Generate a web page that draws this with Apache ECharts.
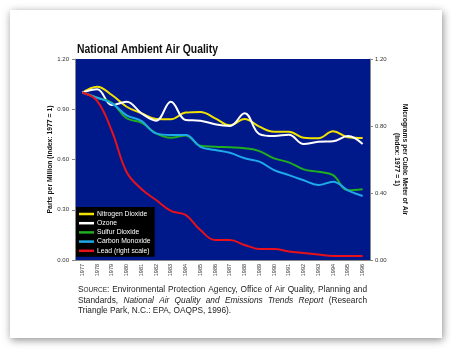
<!DOCTYPE html>
<html><head><meta charset="utf-8">
<script src="https://cdn.jsdelivr.net/npm/echarts@6/dist/echarts.min.js"></script>
<style>html,body{margin:0;padding:0;background:#fff}#c{width:452px;height:356px}</style>
</head><body><div id="c"></div>
<script>
const years = ['1977','1978','1979','1980','1981','1982','1983','1984','1985','1986','1987','1988','1989','1990','1991','1992','1993','1994','1995','1996'];
const no2 = [1.00, 1.035, 0.985, 0.915, 0.876, 0.842, 0.84, 0.88, 0.884, 0.846, 0.804, 0.842, 0.796, 0.766, 0.766, 0.73, 0.727, 0.768, 0.733, 0.728];
const ozone = [1.00, 1.02, 0.925, 0.945, 0.876, 0.832, 0.945, 0.836, 0.832, 0.81, 0.80, 0.876, 0.752, 0.74, 0.748, 0.692, 0.706, 0.709, 0.74, 0.692];
const so2 = [1.00, 0.969, 0.939, 0.846, 0.82, 0.756, 0.73, 0.744, 0.682, 0.676, 0.673, 0.667, 0.65, 0.607, 0.583, 0.541, 0.527, 0.507, 0.416, 0.422];
const co = [1.00, 0.969, 0.935, 0.864, 0.83, 0.756, 0.746, 0.746, 0.676, 0.657, 0.64, 0.607, 0.587, 0.537, 0.507, 0.476, 0.448, 0.467, 0.416, 0.382];
const lead = [1.00, 0.95, 0.77, 0.525, 0.424, 0.358, 0.293, 0.269, 0.179, 0.119, 0.119, 0.09, 0.066, 0.066, 0.051, 0.042, 0.033, 0.024, 0.024, 0.024];
const leftTicks = {min: 0, max: 1.2, interval: 0.3};
const rightTicks = {min: 0, max: 1.2, interval: 0.4};

const F = 'Liberation Sans, Arial, sans-serif';
// source note: runs of [text, style] per line; last line not justified
const sourceLines = [
  [['S', 'n'], ['OURCE', 's'], [': Environmental Protection Agency, Office of Air Quality, Planning and', 'n']],
  [['Standards,', 'n'], [' ', 'n'], ['National Air Quality and Emissions Trends Report', 'i'], [' (Research', 'n']],
  [['Triangle Park, N.C.: EPA, OAQPS, 1996).', 'n']]
];
const fonts = {n: '8.3px ' + F, s: '6.5px ' + F, i: 'italic 8.3px ' + F};
const ctx = document.createElement('canvas').getContext('2d');
const srcGraphics = [];
const X0 = 78, X1 = 367;
sourceLines.forEach((runs, li) => {
  const words = [];
  let cur = null;
  runs.forEach(([t, s]) => {
    const pieces = t.split(/( )/);
    pieces.forEach(p => {
      if (p === '') return;
      if (p === ' ') { cur = null; return; }
      if (!cur) { cur = {parts: []}; words.push(cur); }
      cur.parts.push([p, s]);
    });
  });
  ctx.font = fonts.n;
  const sp = ctx.measureText(' ').width;
  let wordsW = 0;
  words.forEach(w => { w.w = 0; w.parts.forEach(([t, s]) => { ctx.font = fonts[s]; w.w += ctx.measureText(t).width; }); wordsW += w.w; });
  const justify = li < sourceLines.length - 1;
  const gap = justify ? (X1 - X0 - wordsW) / (words.length - 1) : sp;
  let x = X0;
  const y = 294 + li * 10.4;
  words.forEach(w => {
    let xx = x;
    w.parts.forEach(([t, s]) => {
      ctx.font = fonts[s];
      srcGraphics.push({type: 'text', x: xx, y: y, z: 10,
        style: {text: t, font: fonts[s], fill: '#222', textVerticalAlign: 'bottom', verticalAlign: 'alphabetic'}});
      xx += ctx.measureText(t).width;
    });
    x += w.w + gap;
  });
});

const chart = echarts.init(document.getElementById('c'), null, {renderer: 'canvas'});
function line(name, data, color, axis) {
  return {name, type: 'line', data, yAxisIndex: axis, smooth: 0.4, symbol: 'none',
    lineStyle: {color, width: 2}, itemStyle: {color}, z: 3};
}
chart.setOption({
  animation: false,
  graphic: [
    {type: 'rect', shape: {x: 10, y: 10, width: 432, height: 328}, z: -10,
     style: {fill: '#fff', shadowBlur: 8, shadowColor: 'rgba(0,0,0,0.45)', shadowOffsetX: 1, shadowOffsetY: 2}},
    {type: 'text', x: 77, y: 49, scaleX: 0.77, z: 10,
     style: {text: 'National Ambient Air Quality', font: 'bold 13.5px ' + F, fill: '#111',
       textVerticalAlign: 'middle', verticalAlign: 'middle'}},
    ...srcGraphics
  ],
  grid: {left: 75, right: 82, top: 59, bottom: 96, show: true, backgroundColor: '#00198a', borderWidth: 0},
  legend: {orient: 'vertical', left: 76, top: 207, backgroundColor: '#000', padding: [3, 4, 2, 3],
    itemWidth: 15, itemHeight: 2.5, itemGap: 1.2, icon: 'rect',
    textStyle: {color: '#fff', fontSize: 6.8, fontFamily: F, lineHeight: 8, padding: [0, 0, 0, -2]},
    data: ['Nitrogen Dioxide', 'Ozone', 'Sulfur Dioxide', 'Carbon Monoxide', 'Lead (right scale)']},
  xAxis: {type: 'category', data: years, boundaryGap: true,
    axisLine: {lineStyle: {color: '#888', width: 1}},
    axisTick: {interval: 4, length: 3, lineStyle: {color: '#888'}},
    axisLabel: {interval: 0, rotate: 90, fontSize: 5.5, color: '#333', margin: 4, fontFamily: F},
    splitLine: {show: false}},
  yAxis: [
    {type: 'value', ...leftTicks, position: 'left',
     name: 'Parts per Million (index: 1977 = 1)', nameLocation: 'middle', nameGap: 21, nameMoveOverlap: false,
     nameTextStyle: {fontSize: 6.8, fontWeight: 'bold', color: '#111', fontFamily: F},
     axisLine: {show: true, lineStyle: {color: '#888'}},
     axisTick: {show: true, length: 3, lineStyle: {color: '#888'}},
     axisLabel: {fontSize: 6, color: '#333', margin: 6, fontFamily: F, formatter: v => v.toFixed(2)},
     splitLine: {show: false}},
    {type: 'value', ...rightTicks, position: 'right',
     name: 'Micrograms per Cubic Meter of Air\n(Index: 1977 = 1)', nameLocation: 'middle', nameGap: 23, nameMoveOverlap: false,
     nameRotate: -90,
     nameTextStyle: {fontSize: 6.8, fontWeight: 'bold', color: '#111', fontFamily: F, lineHeight: 8},
     axisLine: {show: true, lineStyle: {color: '#888'}},
     axisTick: {show: true, length: 3, lineStyle: {color: '#888'}},
     axisLabel: {fontSize: 6, color: '#333', margin: 5, fontFamily: F, formatter: v => v.toFixed(2)},
     splitLine: {show: false}}
  ],
  series: [
    line('Nitrogen Dioxide', no2, '#f2e200', 0),
    line('Ozone', ozone, '#ffffff', 0),
    line('Sulfur Dioxide', so2, '#1fae1f', 0),
    line('Carbon Monoxide', co, '#1ea9ea', 0),
    line('Lead (right scale)', lead, '#e8101a', 1)
  ]
});
</script></body></html>
